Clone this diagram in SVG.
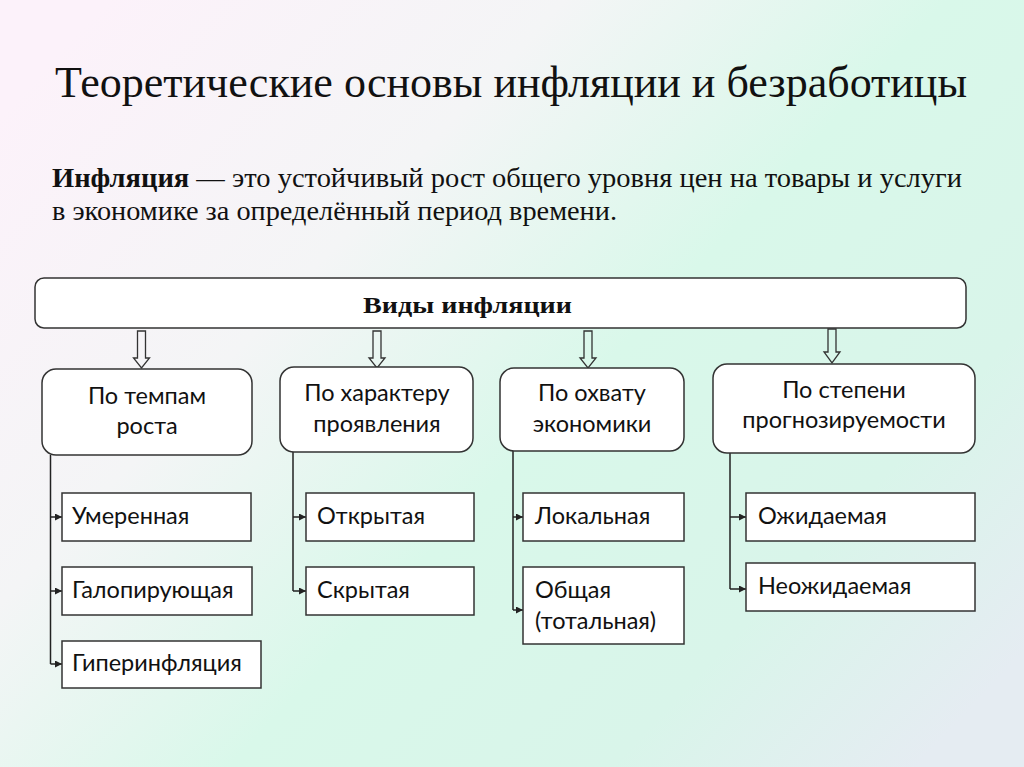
<svg xmlns="http://www.w3.org/2000/svg" width="1024" height="767" viewBox="0 0 1024 767">
<defs>
<linearGradient id="bg" x1="0" y1="0.15" x2="1" y2="0.85">
<stop offset="0" stop-color="#fcf2fa"/>
<stop offset="0.3" stop-color="#f4f5f6"/>
<stop offset="0.55" stop-color="#d9f8ea"/>
<stop offset="0.8" stop-color="#d9f5ea"/>
<stop offset="1" stop-color="#e5ecf2"/>
</linearGradient>
<marker id="ah" markerUnits="userSpaceOnUse" markerWidth="8" markerHeight="8" refX="7" refY="3.5" orient="auto">
<path d="M0,0 L7,3.5 L0,7 z" fill="#222"/>
</marker>
<style>
.box{fill:#fff;stroke:#333;stroke-width:1.5}
.cat{fill:#fff;stroke:#333;stroke-width:1.5}
.t{font-family:Lato,"Liberation Sans",sans-serif;font-size:23.5px;fill:#111}
.c{text-anchor:middle}
.ser{font-family:"Liberation Serif",serif;fill:#111}
.ha{fill:none;stroke:#333;stroke-width:1.3}
.ln{fill:none;stroke:#222;stroke-width:1.5}
.ar{fill:none;stroke:#222;stroke-width:1.5;marker-end:url(#ah)}
</style>
</defs>
<rect width="1024" height="767" fill="url(#bg)"/>

<text class="ser" x="55" y="97" font-size="45" textLength="912" lengthAdjust="spacingAndGlyphs">Теоретические основы инфляции и безработицы</text>
<text class="ser" x="52" y="187" font-size="27" textLength="910" lengthAdjust="spacingAndGlyphs"><tspan font-weight="bold">Инфляция</tspan> — это устойчивый рост общего уровня цен на товары и услуги</text>
<text class="ser" x="52" y="220" font-size="27" textLength="565" lengthAdjust="spacingAndGlyphs">в экономике за определённый период времени.</text>

<g id="root">
<rect class="box" x="35" y="278" width="931" height="50" rx="9"/>
<text class="ser" x="363" y="313" font-size="24" font-weight="bold" textLength="209" lengthAdjust="spacingAndGlyphs">Виды инфляции</text>
</g>

<g id="connectors">
<polygon class="ha" points="137.5,331 145.5,331 145.5,358 149.5,358 141.5,368 133.5,358 137.5,358"/>
<polygon class="ha" points="373,331 381,331 381,358 385,358 377,368 369,358 373,358"/>
<polygon class="ha" points="584,331 592,331 592,358 596,358 588,368 580,358 584,358"/>
<polygon class="ha" points="828,329 836,329 836,352 840,352 832,363 824,352 828,352"/>
<path class="ln" d="M50.5,455 V664"/>
<path class="ar" d="M50.5,517 H62"/>
<path class="ar" d="M50.5,591 H62"/>
<path class="ar" d="M50.5,664 H62"/>
<path class="ln" d="M293,452 V591"/>
<path class="ar" d="M293,517 H306"/>
<path class="ar" d="M293,591 H306"/>
<path class="ln" d="M513,451 V610"/>
<path class="ar" d="M513,517 H523"/>
<path class="ar" d="M513,610 H523"/>
<path class="ln" d="M730,453 V589"/>
<path class="ar" d="M730,517 H746"/>
<path class="ar" d="M730,589 H746"/>
</g>

<g id="cat1">
<rect class="cat" x="42" y="369" width="210" height="86" rx="14"/>
<text class="t c" x="147" y="404">По темпам</text>
<text class="t c" x="147" y="434">роста</text>
</g>
<g id="cat2">
<rect class="cat" x="280" y="367" width="193" height="85" rx="14"/>
<text class="t c" x="377" y="401">По характеру</text>
<text class="t c" x="377" y="432">проявления</text>
</g>
<g id="cat3">
<rect class="cat" x="500" y="368" width="184" height="83" rx="14"/>
<text class="t c" x="592" y="401">По охвату</text>
<text class="t c" x="592" y="432">экономики</text>
</g>
<g id="cat4">
<rect class="cat" x="713" y="364" width="262" height="89" rx="14"/>
<text class="t c" x="844" y="398">По степени</text>
<text class="t c" x="844" y="428">прогнозируемости</text>
</g>

<g id="leaf-moderate"><rect class="box" x="62" y="493" width="189" height="48"/><text class="t" x="72" y="524">Умеренная</text></g>
<g id="leaf-galloping"><rect class="box" x="62" y="567" width="190" height="48"/><text class="t" x="72" y="598">Галопирующая</text></g>
<g id="leaf-hyper"><rect class="box" x="62" y="641" width="199" height="47"/><text class="t" x="72" y="671">Гиперинфляция</text></g>
<g id="leaf-open"><rect class="box" x="306" y="493" width="168" height="48"/><text class="t" x="317" y="524">Открытая</text></g>
<g id="leaf-hidden"><rect class="box" x="306" y="567" width="168" height="48"/><text class="t" x="317" y="598">Скрытая</text></g>
<g id="leaf-local"><rect class="box" x="523" y="493" width="161" height="48"/><text class="t" x="535" y="524">Локальная</text></g>
<g id="leaf-total"><rect class="box" x="523" y="567" width="161" height="77"/><text class="t" x="535" y="598">Общая</text><text class="t" x="535" y="629">(тотальная)</text></g>
<g id="leaf-expected"><rect class="box" x="746" y="493" width="229" height="48"/><text class="t" x="758" y="524">Ожидаемая</text></g>
<g id="leaf-unexpected"><rect class="box" x="746" y="563" width="229" height="48"/><text class="t" x="758" y="594">Неожидаемая</text></g>
</svg>
